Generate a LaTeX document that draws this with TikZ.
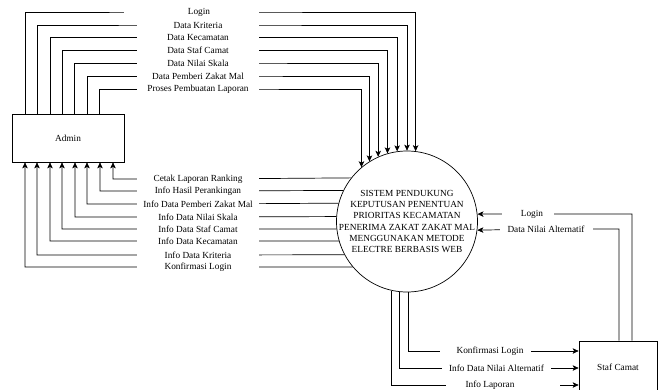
\documentclass[tikz,border=0pt]{standalone}
\usepackage{fontspec}
\setmainfont{Liberation Serif}
\usetikzlibrary{arrows.meta}

\begin{document}
\begin{tikzpicture}[x=1pt,y=-1pt,font=\fontsize{9.3}{11.3}\selectfont,
  box/.style={draw,line width=0.7pt},
  flow/.style={draw,line width=0.7pt,-{Stealth[length=6pt,width=5.5pt,inset=1.5pt]}},
  lbl/.style={fill=white,inner xsep=0pt,inner ysep=0.5pt,minimum width=122pt}]
\useasboundingbox (0,0) rectangle (662,389);
\node[box,minimum width=112pt,minimum height=48pt] (admin) at (68,138) {Admin};
\node[box,circle,minimum size=141pt,inner sep=0pt] (sys) at (407,221.5) {};
\node[align=center] (systext) at (sys.center) {SISTEM PENDUKUNG\\KEPUTUSAN PENENTUAN\\PRIORITAS KECAMATAN\\PENERIMA ZAKAT ZAKAT MAL\\MENGGUNAKAN METODE\\ELECTRE BERBASIS WEB};
\node[box,minimum width=78pt,minimum height=52pt] (staf) at (618,367) {Staf Camat};

% admin ke sistem
\draw[flow] (admin.north -| 25,0) |- (191.5,12) node[lbl,minimum width=135pt] {\kern15pt Login} -| (sys.83.48);
\draw[flow] (admin.north -| 37,0) |- (198,25) node[lbl] {Data Kriteria} -| (sys.90.81);
\draw[flow] (admin.north -| 50,0) |- (198,37.5) node[lbl] {Data Kecamatan} -| (sys.98.15);
\draw[flow] (admin.north -| 62,0) |- (198,50.5) node[lbl] {Data Staf Camat} -| (sys.106.48);
\draw[flow] (admin.north -| 74,0) |- (198,63) node[lbl] {Data Nilai Skala} -| (sys.114.29);
\draw[flow] (admin.north -| 87,0) |- (198,76) node[lbl] {Data Pemberi Zakat Mal} -| (sys.122.62);
\draw[flow] (admin.north -| 99,0) |- (198,89) node[lbl] {Proses Pembuatan Laporan} -| (sys.130.73);

% sistem ke admin
\draw[flow] (sys.142.93) -- (198,179) node[lbl] {Cetak Laporan Ranking} -| (admin.south -| 113,0);
\draw[flow] (sys.154.37) -- (198,191) node[lbl] {Info Hasil Perankingan} -| (admin.south -| 100,0);
\draw[flow] (sys.165.63) -- (198,204) node[lbl] {Info Data Pemberi Zakat Mal} -| (admin.south -| 87,0);
\draw[flow] (sys.176.34) -- (198,217) node[lbl] {Info Data Nilai Skala} -| (admin.south -| 75,0);
\draw[flow] (sys.186.11) -- (198,229) node[lbl] {Info Data Staf Camat} -| (admin.south -| 62,0);
\draw[flow] (sys.196.06) -- (198,241) node[lbl] {Info Data Kecamatan} -| (admin.south -| 50,0);
\draw[flow] (sys.208.37) -- (198,255) node[lbl] {Info Data Kriteria} -| (admin.south -| 37,0);
\draw[flow] (sys.220.19) -- (198,267) node[lbl] {Konfirmasi Login} -| (admin.south -| 25,0);

% staf camat ke sistem
\draw[flow] (staf.north -| 632,0) |- (528,214) node[lbl,minimum width=52pt] {\kern8pt Login} -- (sys.6.11);
\draw[flow] (staf.north -| 619,0) |- (546,229) node[lbl,minimum width=93pt] {Data Nilai Alternatif} -- (sys.353.89);

% sistem ke staf camat
\draw[flow] (sys.271.63) |- (485.5,351) node[lbl,minimum width=91pt] {\kern9pt Konfirmasi Login} -- (staf.west |- 0,351);
\draw[flow] (sys.264.30) |- (496.5,368) node[lbl,minimum width=109pt] {Info Data Nilai Alternatif} -- (staf.west |- 0,368);
\draw[flow] (sys.257.72) |- (503,385) node[lbl,minimum width=114pt] {Info Laporan\kern26pt} -- (staf.west |- 0,385);
\end{tikzpicture}
\end{document}
